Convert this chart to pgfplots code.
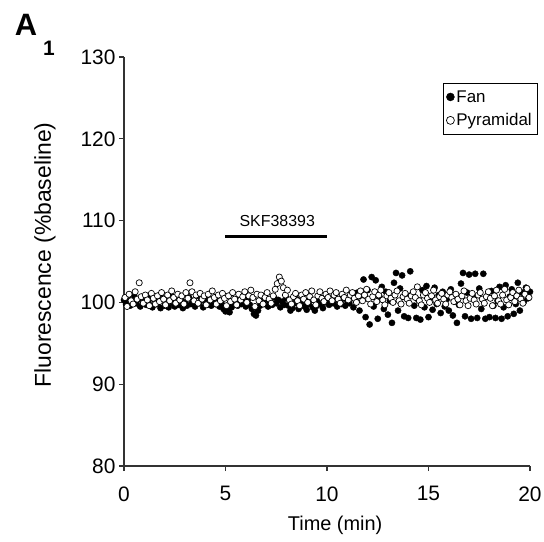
\documentclass[border=0pt]{standalone}
\usepackage{fontspec}
\setmainfont{Liberation Sans}
\usepackage{pgfplots}
\pgfplotsset{compat=1.18}
\begin{document}
\begin{tikzpicture}
\begin{axis}[
 at={(0,0)}, anchor=south west,
 scale only axis, width=406bp, height=409bp,
 xmin=0, xmax=20, ymin=80, ymax=130,
 axis x line*=bottom, axis y line*=left,
 axis line style={line width=1.6bp, color=black!80},
 xtick={0,5,10,15,20}, ytick={80,90,100,110,120,130},
 tick align=outside, major tick length=5bp,
 tick style={line width=1.4bp, color=black!80},
 /pgf/number format/assume math mode=true,
 ticklabel style={font=\fontsize{21}{25}\selectfont},
 xticklabel style={yshift=-12bp},
 xlabel={Time (min)}, ylabel={Fluorescence (\%baseline)},
 xlabel style={font=\fontsize{20}{24}\selectfont, at={(axis description cs:0.52,-0.144)}, anchor=center},
 ylabel style={font=\fontsize{23}{27}\selectfont, at={(axis description cs:-0.195,0.516)}, anchor=center},
 legend style={at={(1.017,0.936)}, anchor=north east, draw=black, thin, font=\fontsize{17}{20}\selectfont, inner xsep=3bp, inner ysep=5bp, row sep=6bp},
 legend cell align=left,
 legend image code/.code={\draw[#1] plot coordinates {(0.22cm,0cm)};},
 legend image post style={mark size=4bp},
 clip=false,
]
\addplot[only marks, mark=*, mark size=3.1bp, black] coordinates {
(0.0,100.3)(0.1,99.8)(0.2,100.5)(0.3,99.6)(0.4,100.1)(0.5,100.8)(0.6,99.9)(0.7,100.4)(0.8,99.5)(0.9,100.2)
(1.0,100.6)(1.1,99.7)(1.2,100.0)(1.3,100.9)(1.4,99.4)(1.5,100.3)(1.6,99.8)(1.7,100.1)(1.8,99.3)(1.9,100.5)
(2.0,99.6)(2.1,100.0)(2.2,99.4)(2.3,100.7)(2.4,99.9)(2.5,99.5)(2.6,100.2)(2.7,99.7)(2.8,100.4)(2.9,99.3)
(3.0,100.0)(3.1,99.6)(3.2,100.6)(3.3,99.8)(3.4,100.2)(3.5,99.5)(3.6,100.8)(3.7,99.9)(3.8,100.3)(3.9,99.4)
(4.0,100.1)(4.1,99.7)(4.2,100.5)(4.3,99.6)(4.4,100.0)(4.5,99.8)(4.6,100.4)(4.7,99.5)(4.8,99.9)(4.9,99.2)
(5.0,98.9)(5.1,99.1)(5.2,98.8)(5.3,99.4)(5.4,99.7)(5.5,100.2)(5.6,99.6)(5.7,100.5)(5.8,99.8)(5.9,100.1)
(6.0,99.5)(6.1,100.3)(6.2,99.7)(6.3,99.2)(6.4,98.6)(6.5,98.4)(6.6,99.0)(6.7,99.6)(6.8,100.2)(6.9,99.8)
(7.0,100.4)(7.1,99.5)(7.2,100.0)(7.3,99.7)(7.4,100.6)(7.5,99.9)(7.6,100.3)(7.7,99.4)(7.8,100.1)(7.9,99.7)
(8.0,100.5)(8.1,99.6)(8.2,99.0)(8.3,99.3)(8.4,99.9)(8.5,100.4)(8.6,99.2)(8.7,99.7)(8.8,100.2)(8.9,99.5)
(9.0,99.1)(9.1,99.8)(9.2,100.3)(9.3,99.4)(9.4,99.0)(9.5,99.6)(9.6,100.1)(9.7,99.8)(9.8,99.3)(9.9,100.0)
(10.0,100.4)(10.1,99.7)(10.2,100.2)(10.3,99.9)(10.4,100.6)(10.5,99.5)(10.6,100.1)(10.7,99.8)(10.8,100.5)(10.9,99.6)
(11.0,100.2)(11.1,99.9)(11.2,100.7)(11.3,99.4)(11.4,100.3)(11.5,101.2)(11.6,99.0)(11.7,100.8)(11.8,102.8)(11.9,98.2)
(12.0,101.5)(12.1,97.3)(12.2,103.1)(12.3,99.5)(12.4,102.7)(12.5,98.0)(12.6,100.6)(12.7,101.9)(12.8,99.2)(12.9,101.3)
(13.0,98.5)(13.1,100.2)(13.2,97.5)(13.3,102.4)(13.4,103.6)(13.5,99.0)(13.6,101.7)(13.7,103.3)(13.8,98.3)(13.9,100.9)
(14.0,98.1)(14.1,103.8)(14.2,101.0)(14.3,99.6)(14.4,98.1)(14.5,100.3)(14.6,97.9)(14.7,101.5)(14.8,99.4)(14.9,102.0)
(15.0,98.2)(15.1,100.6)(15.2,99.1)(15.3,101.8)(15.4,99.8)(15.5,100.9)(15.6,98.7)(15.7,101.3)(15.8,99.5)(15.9,100.4)
(16.0,99.0)(16.1,101.6)(16.2,98.4)(16.3,100.1)(16.4,97.5)(16.5,99.7)(16.6,102.3)(16.7,103.6)(16.8,98.3)(16.9,101.2)
(17.0,103.4)(17.1,98.0)(17.2,100.5)(17.3,103.5)(17.4,98.1)(17.5,101.7)(17.6,99.2)(17.7,103.5)(17.8,98.0)(17.9,100.8)
(18.0,98.2)(18.1,101.4)(18.2,99.6)(18.3,98.1)(18.4,100.2)(18.5,101.9)(18.6,98.0)(18.7,99.4)(18.8,102.1)(18.9,98.3)
(19.0,100.7)(19.1,101.6)(19.2,98.6)(19.3,99.8)(19.4,102.4)(19.5,99.0)(19.6,101.2)(19.7,100.1)(19.8,101.8)(19.9,100.5)
(20.0,101.3)
};
\addlegendentry{Fan}
\addplot[only marks, mark=*, mark size=3.1bp, mark options={fill=white, draw=black, line width=0.7bp}] coordinates {
(0.05,100.6)(0.15,99.5)(0.25,101.0)(0.35,100.2)(0.45,99.8)(0.55,101.3)(0.65,100.4)(0.75,102.4)(0.85,100.7)(0.95,99.9)
(1.05,100.9)(1.15,100.3)(1.25,99.6)(1.35,101.1)(1.45,100.5)(1.55,99.8)(1.65,100.8)(1.75,100.1)(1.85,101.2)(1.95,100.4)
(2.05,99.7)(2.15,100.9)(2.25,100.2)(2.35,101.4)(2.45,100.6)(2.55,99.9)(2.65,101.0)(2.75,100.3)(2.85,100.8)(2.95,99.8)
(3.05,101.2)(3.15,100.5)(3.25,102.4)(3.35,101.3)(3.45,100.2)(3.55,100.9)(3.65,99.9)(3.75,101.1)(3.85,100.4)(3.95,100.8)
(4.05,99.7)(4.15,101.0)(4.25,100.3)(4.35,101.4)(4.45,100.6)(4.55,99.8)(4.65,100.9)(4.75,100.2)(4.85,101.1)(4.95,100.5)
(5.05,99.6)(5.15,100.8)(5.25,100.1)(5.35,101.2)(5.45,100.4)(5.55,99.7)(5.65,101.0)(5.75,100.3)(5.85,100.7)(5.95,101.3)
(6.05,100.0)(6.15,100.8)(6.25,101.5)(6.35,100.6)(6.45,99.5)(6.55,101.0)(6.65,100.2)(6.75,100.9)(6.85,99.8)(6.95,100.6)
(7.05,101.2)(7.15,100.4)(7.25,99.9)(7.35,100.8)(7.45,101.6)(7.55,102.3)(7.65,103.1)(7.75,102.6)(7.85,101.8)(7.95,100.9)
(8.05,101.5)(8.15,100.3)(8.25,99.8)(8.35,100.7)(8.45,101.1)(8.55,100.2)(8.65,99.6)(8.75,100.9)(8.85,100.4)(8.95,101.2)
(9.05,100.0)(9.15,100.7)(9.25,101.4)(9.35,100.3)(9.45,99.7)(9.55,100.8)(9.65,101.3)(9.75,100.5)(9.85,100.1)(9.95,101.0)
(10.05,100.6)(10.15,101.4)(10.25,100.2)(10.35,100.9)(10.45,101.2)(10.55,100.4)(10.65,99.9)(10.75,101.0)(10.85,100.6)(10.95,101.5)
(11.05,100.3)(11.15,100.9)(11.25,101.2)(11.35,100.5)(11.45,100.0)(11.55,100.8)(11.65,101.4)(11.75,100.2)(11.85,100.9)(11.95,101.6)
(12.05,100.4)(12.15,99.8)(12.25,100.7)(12.35,101.3)(12.45,100.1)(12.55,100.9)(12.65,101.5)(12.75,100.3)(12.85,99.7)(12.95,100.8)
(13.05,101.2)(13.15,100.5)(13.25,100.0)(13.35,100.9)(13.45,101.4)(13.55,100.2)(13.65,99.8)(13.75,100.7)(13.85,101.1)(13.95,100.4)
(14.05,99.9)(14.15,100.8)(14.25,101.3)(14.35,100.6)(14.45,101.9)(14.55,100.2)(14.65,99.7)(14.75,100.9)(14.85,101.2)(14.95,100.5)
(15.05,100.0)(15.15,100.8)(15.25,101.5)(15.35,100.3)(15.45,99.9)(15.55,100.7)(15.65,101.1)(15.75,100.4)(15.85,99.8)(15.95,100.9)
(16.05,101.3)(16.15,100.6)(16.25,100.1)(16.35,101.0)(16.45,100.4)(16.55,99.7)(16.65,100.8)(16.75,101.4)(16.85,100.2)(16.95,99.6)
(17.05,100.5)(17.15,101.1)(17.25,100.3)(17.35,99.8)(17.45,100.9)(17.55,101.2)(17.65,100.4)(17.75,99.9)(17.85,100.7)(17.95,101.3)
(18.05,100.5)(18.15,99.6)(18.25,100.8)(18.35,101.5)(18.45,100.2)(18.55,99.8)(18.65,100.9)(18.75,101.6)(18.85,100.3)(18.95,99.7)
(19.05,100.6)(19.15,101.2)(19.25,100.1)(19.35,100.8)(19.45,101.5)(19.55,100.4)(19.65,99.9)(19.75,101.0)(19.85,101.7)(19.95,100.6)
};
\addlegendentry{Pyramidal}
\addplot[line width=3bp, black, forget plot] coordinates {(5,108) (10,108)};
\node[font=\fontsize{16}{19}\selectfont, anchor=center] at (axis cs:7.55,109.9) {SKF38393};
\end{axis}
\node[font=\fontsize{31}{36}\selectfont\bfseries, anchor=center] at (-98bp,441bp) {A};
\node[font=\fontsize{21}{25}\selectfont\bfseries, anchor=center] at (-75bp,418bp) {1};
\pgfresetboundingbox
\path (-124bp,-76bp) rectangle (420bp,466bp);
\end{tikzpicture}
\end{document}
